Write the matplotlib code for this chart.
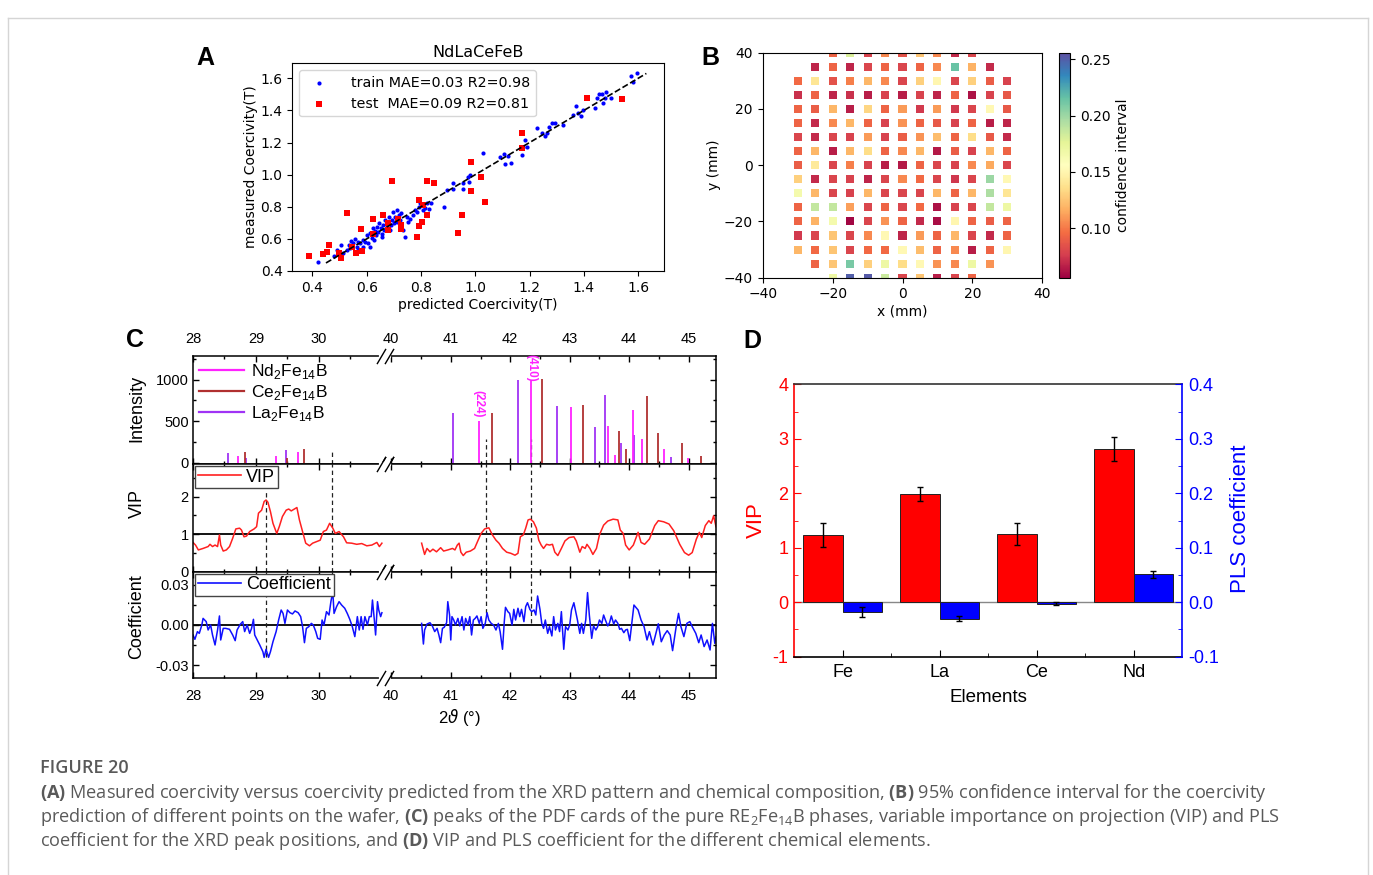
import numpy as np
import matplotlib
matplotlib.use("Agg")
import matplotlib.pyplot as plt
import matplotlib.transforms as mtransforms
from matplotlib.lines import Line2D

plt.rcParams['mathtext.rm'] = 'Open Sans'
plt.rcParams['mathtext.bf'] = 'Open Sans:bold'
plt.rcParams['mathtext.it'] = 'Open Sans:italic'
ARIAL = 'Liberation Sans'
CAPFONT = 'Open Sans'

# ---------------- Panel A data ----------------
train_pred = [0.42, 0.434, 0.48, 0.49, 0.504, 0.514, 0.526, 0.533, 0.539, 0.541, 0.548, 0.557, 0.563, 0.569, 0.569,
              0.575, 0.585, 0.588, 0.594, 0.60, 0.606, 0.612, 0.612, 0.618, 0.622, 0.627, 0.631, 0.634, 0.639, 0.643,
              0.647, 0.652, 0.655, 0.655, 0.659, 0.664, 0.667, 0.674, 0.68, 0.683, 0.686, 0.688, 0.692, 0.698, 0.701,
              0.706, 0.71, 0.713, 0.72, 0.722, 0.725, 0.735, 0.741, 0.747, 0.753, 0.76, 0.769, 0.778, 0.787, 0.794,
              0.796, 0.802, 0.809, 0.815, 0.821, 0.831, 0.837, 0.885, 0.895, 0.917, 0.919, 0.956, 0.956, 0.974, 0.978,
              0.98, 1.03, 1.091, 1.106, 1.109, 1.121, 1.13, 1.172, 1.174, 1.183, 1.189, 1.226, 1.244, 1.256, 1.263,
              1.272, 1.281, 1.294, 1.324, 1.361, 1.37, 1.379, 1.388, 1.395, 1.44, 1.449, 1.456, 1.468, 1.471, 1.477,
              1.483, 1.498, 1.575, 1.582, 1.594]
train_meas = [0.454, 0.506, 0.493, 0.531, 0.562, 0.51, 0.531, 0.562, 0.541, 0.589, 0.572, 0.597, 0.552, 0.583, 0.531,
              0.572, 0.593, 0.552, 0.581, 0.624, 0.572, 0.639, 0.552, 0.603, 0.666, 0.593, 0.651, 0.624, 0.676, 0.645,
              0.701, 0.666, 0.63, 0.614, 0.687, 0.655, 0.718, 0.676, 0.707, 0.738, 0.655, 0.687, 0.718, 0.77, 0.697,
              0.738, 0.78, 0.707, 0.749, 0.718, 0.763, 0.655, 0.61, 0.738, 0.707, 0.722, 0.749, 0.78, 0.77, 0.801,
              0.821, 0.811, 0.78, 0.79, 0.821, 0.784, 0.821, 0.801, 0.904, 0.946, 0.909, 0.909, 0.946, 0.983, 0.956,
              0.998, 1.133, 1.112, 1.129, 1.066, 1.116, 1.075, 1.122, 1.174, 1.216, 1.174, 1.289, 1.257, 1.241, 1.257,
              1.299, 1.32, 1.324, 1.309, 1.372, 1.428, 1.386, 1.365, 1.403, 1.413, 1.475, 1.502, 1.502, 1.448, 1.475,
              1.517, 1.475, 1.614, 1.579, 1.635]
test_pred = [0.389, 0.44, 0.453, 0.463, 0.498, 0.504, 0.526, 0.545, 0.56, 0.582, 0.578, 0.622, 0.625, 0.659, 0.677,
             0.68, 0.692, 0.716, 0.726, 0.726, 0.784, 0.791, 0.794, 0.805, 0.809, 0.823, 0.823, 0.848, 0.935, 0.951,
             0.983, 0.983, 1.021, 1.036, 1.173, 1.173, 1.412, 1.542]
test_meas = [0.493, 0.506, 0.52, 0.562, 0.514, 0.483, 0.759, 0.552, 0.514, 0.527, 0.66, 0.63, 0.722, 0.747, 0.697,
             0.655, 0.963, 0.722, 0.687, 0.66, 0.61, 0.682, 0.842, 0.707, 0.811, 0.749, 0.963, 0.95, 0.635, 0.749,
             1.079, 0.896, 0.988, 0.832, 1.164, 1.262, 1.477, 1.471]
diag_line = [0.45, 1.63]
a_ticks = [0.4, 0.6, 0.8, 1.0, 1.2, 1.4, 1.6]

# ---------------- Panel B data (confidence interval per wafer row, y in mm) ----------------
row_y = [40, 35, 30, 25, 20, 15, 10, 5, 0, -5, -10, -15, -20, -25, -30, -35, -40]
ci_p40 = [0.092, 0.18, 0.078, 0.105, 0.085, 0.125, 0.105, 0.07, 0.08]
ci_p35 = [0.068, 0.092, 0.068, 0.08, 0.092, 0.08, 0.092, 0.105, 0.215, 0.118, 0.07]
ci_p30 = [0.095, 0.14, 0.085, 0.102, 0.12, 0.105, 0.08, 0.13, 0.15, 0.08, 0.13, 0.09, 0.078]
ci_p25 = [0.072, 0.092, 0.068, 0.072, 0.066, 0.078, 0.066, 0.078, 0.068, 0.092, 0.062, 0.078, 0.088]
ci_p20 = [0.092, 0.09, 0.12, 0.066, 0.132, 0.092, 0.11, 0.075, 0.11, 0.075, 0.08, 0.152, 0.088]
ci_p15 = [0.092, 0.07, 0.105, 0.12, 0.092, 0.078, 0.108, 0.092, 0.088, 0.078, 0.092, 0.066, 0.068]
ci_p10 = [0.08, 0.07, 0.08, 0.078, 0.11, 0.078, 0.09, 0.108, 0.122, 0.092, 0.135, 0.088, 0.07]
ci_p05 = [0.092, 0.12, 0.066, 0.12, 0.135, 0.092, 0.105, 0.12, 0.064, 0.09, 0.078, 0.12, 0.092]
ci_000 = [0.09, 0.142, 0.08, 0.102, 0.078, 0.066, 0.064, 0.092, 0.08, 0.078, 0.105, 0.115, 0.08]
ci_m05 = [0.13, 0.07, 0.08, 0.078, 0.068, 0.08, 0.105, 0.095, 0.08, 0.074, 0.08, 0.2, 0.152]
ci_m10 = [0.165, 0.12, 0.08, 0.078, 0.12, 0.08, 0.08, 0.08, 0.12, 0.092, 0.12, 0.195, 0.14]
ci_m15 = [0.092, 0.188, 0.188, 0.112, 0.08, 0.092, 0.08, 0.095, 0.062, 0.078, 0.08, 0.188, 0.17]
ci_m20 = [0.092, 0.118, 0.165, 0.058, 0.08, 0.108, 0.092, 0.07, 0.06, 0.15, 0.092, 0.09, 0.092]
ci_m25 = [0.075, 0.08, 0.125, 0.08, 0.105, 0.152, 0.068, 0.11, 0.092, 0.12, 0.08, 0.07, 0.092]
ci_m30 = [0.12, 0.095, 0.125, 0.08, 0.095, 0.095, 0.152, 0.122, 0.092, 0.105, 0.066, 0.092, 0.15]
ci_m35 = [0.092, 0.125, 0.21, 0.13, 0.17, 0.135, 0.152, 0.108, 0.105, 0.17, 0.108]
ci_m40 = [0.17, 0.25, 0.252, 0.185, 0.08, 0.125, 0.066, 0.08, 0.092]
ci_rows = [ci_p40, ci_p35, ci_p30, ci_p25, ci_p20, ci_p15, ci_p10, ci_p05, ci_000,
           ci_m05, ci_m10, ci_m15, ci_m20, ci_m25, ci_m30, ci_m35, ci_m40]
grid_step = 5
cb_ticks = [0.10, 0.15, 0.20, 0.25]

# ---------------- Panel C data ----------------
nd_x = [28.72, 29.32, 29.66, 41.47, 42.35, 43.02, 43.64, 43.76, 44.06, 44.22, 44.58, 44.99]
nd_h = [85, 85, 133, 500, 1000, 668, 447, 90, 636, 286, 165, 55]
ce_x = [28.82, 29.50, 29.76, 41.70, 42.54, 43.22, 43.83, 43.95, 44.30, 44.49, 44.89, 45.20]
ce_h = [133, 65, 165, 595, 1010, 700, 383, 165, 807, 358, 238, 85]
la_x = [28.55, 28.84, 29.47, 41.035, 42.13, 42.79, 43.42, 43.60, 43.86, 44.08, 44.71]
la_h = [124, 60, 153, 595, 1000, 688, 427, 817, 238, 330, 72]

vip_l_x = [28.0, 28.04, 28.085, 28.16, 28.24, 28.27, 28.31, 28.35, 28.39, 28.42, 28.44, 28.48, 28.53, 28.58, 28.63,
           28.68, 28.74, 28.77, 28.81, 28.85, 28.90, 28.97, 29.01, 29.04, 29.09, 29.13, 29.16, 29.19, 29.23, 29.27,
           29.33, 29.37, 29.42, 29.48, 29.52, 29.56, 29.60, 29.65, 29.69, 29.74, 29.79, 29.85, 29.90, 29.96, 30.02,
           30.07, 30.12, 30.17, 30.22, 30.26, 30.32, 30.39, 30.44, 30.52, 30.60, 30.68, 30.76, 30.84, 30.92, 30.96, 31.0]
vip_l = [0.78, 0.71, 0.58, 0.62, 0.67, 0.73, 0.67, 0.71, 0.67, 0.98, 0.71, 0.55, 0.58, 0.67, 0.89,
         1.14, 1.16, 1.11, 0.93, 0.95, 1.07, 1.14, 1.2, 1.56, 1.64, 1.87, 1.91, 1.85, 1.6, 1.29,
         1.02, 1.2, 1.47, 1.64, 1.67, 1.62, 1.66, 1.71, 1.38, 1.07, 0.76, 0.69, 0.76, 0.8, 0.84,
         1.07, 1.11, 1.29, 1.16, 1.02, 1.07, 0.93, 0.77, 0.76, 0.73, 0.75, 0.69, 0.71, 0.78, 0.67, 0.76]
vip_r_x = [40.51, 40.56, 40.60, 40.65, 40.70, 40.76, 40.83, 40.88, 40.95, 41.03, 41.07, 41.11, 41.14, 41.17, 41.21,
           41.26, 41.33, 41.40, 41.46, 41.51, 41.57, 41.64, 41.70, 41.76, 41.81, 41.87, 41.94, 42.01, 42.08, 42.13,
           42.17, 42.22, 42.26, 42.30, 42.34, 42.39, 42.44, 42.48, 42.52, 42.56, 42.61, 42.66, 42.71, 42.75, 42.80,
           42.86, 42.92, 42.99, 43.07, 43.11, 43.17, 43.21, 43.26, 43.29, 43.34, 43.39, 43.45, 43.50, 43.57, 43.64,
           43.73, 43.81, 43.85, 43.90, 43.94, 44.0, 44.07, 44.15, 44.20, 44.26, 44.34, 44.43, 44.49, 44.58, 44.67,
           44.75, 44.85, 44.93, 45.00, 45.06, 45.13, 45.18, 45.22, 45.28, 45.34, 45.38, 45.42, 45.46]
vip_r = [0.76, 0.46, 0.62, 0.53, 0.60, 0.53, 0.64, 0.55, 0.58, 0.62, 0.58, 0.71, 0.76, 0.52, 0.43,
         0.52, 0.55, 0.62, 0.84, 1.02, 1.14, 1.17, 0.98, 0.84, 0.76, 0.62, 0.52, 0.49, 0.44, 0.49,
         0.93, 0.98, 1.16, 1.38, 1.40, 1.33, 1.16, 0.84, 0.71, 0.62, 0.73, 0.71, 0.73, 0.52, 0.43,
         0.62, 0.82, 0.91, 0.93, 0.82, 0.52, 0.67, 0.62, 0.73, 0.62, 0.46, 0.62, 0.98, 1.24, 1.35,
         1.40, 1.38, 1.11, 1.02, 0.71, 0.58, 0.71, 1.05, 0.78, 0.73, 0.87, 1.23, 1.36, 1.33, 1.27,
         1.09, 0.73, 0.51, 0.44, 0.51, 0.87, 1.05, 0.91, 1.23, 1.36, 1.29, 1.49, 1.2]

coef_l_x = [28.0, 28.03, 28.07, 28.10, 28.14, 28.16, 28.21, 28.24, 28.28, 28.31, 28.35, 28.39, 28.42, 28.44, 28.48,
            28.52, 28.58, 28.63, 28.67, 28.70, 28.75, 28.79, 28.82, 28.86, 28.90, 28.93, 28.96, 28.98, 29.02, 29.06,
            29.11, 29.13, 29.16, 29.20, 29.23, 29.27, 29.32, 29.36, 29.40, 29.43, 29.46, 29.50, 29.54, 29.58, 29.62,
            29.67, 29.71, 29.74, 29.77, 29.80, 29.84, 29.88, 29.91, 29.95, 29.98, 30.02, 30.05, 30.08, 30.12, 30.16,
            30.19, 30.22, 30.24, 30.28, 30.32, 30.36, 30.41, 30.45, 30.49, 30.53, 30.57, 30.61, 30.64, 30.67, 30.70,
            30.73, 30.77, 30.80, 30.83, 30.85, 30.88, 30.90, 30.93, 30.95, 30.98, 31.0]
coef_l = [-0.0074, -0.0106, -0.0049, -0.0062, 0.0, 0.0049, 0.0025, -0.0037, 0.0, -0.0074, -0.0148, -0.0037, 0.0067,
          -0.0111, -0.0025, -0.0025, -0.0032, -0.0074, -0.0116, -0.0037, 0.0005, 0.0025, -0.0049, 0.0, -0.0062,
          -0.0025, 0.0042, -0.0074, -0.0111, -0.0148, -0.0198, -0.024, -0.018, -0.024, -0.0198, -0.0124, -0.0049,
          0.0037, 0.0111, 0.0086, 0.0012, 0.0111, 0.0091, 0.0082, 0.0104, 0.0091, 0.0062, -0.0012, -0.0131, -0.0025,
          -0.0012, 0.0012, 0.0, -0.0049, -0.0099, -0.0106, 0.0037, 0.0, 0.0099, 0.0074, 0.0173, 0.0247, 0.0086,
          0.0136, 0.0173, 0.0148, 0.0124, 0.0086, 0.0042, -0.0012, -0.0086, 0.0062, -0.0037, 0.0062, -0.0032, 0.0062,
          0.0, 0.0062, 0.0062, 0.0185, 0.0037, -0.0074, 0.0173, 0.0111, 0.0062, 0.0091]
coef_r_x = [40.51, 40.54, 40.56, 40.60, 40.65, 40.69, 40.73, 40.77, 40.80, 40.83, 40.86, 40.89, 40.93, 40.95, 40.98,
            41.0, 41.02, 41.05, 41.08, 41.12, 41.15, 41.19, 41.22, 41.25, 41.29, 41.32, 41.35, 41.38, 41.41, 41.44,
            41.48, 41.51, 41.54, 41.58, 41.61, 41.64, 41.68, 41.72, 41.76, 41.80, 41.83, 41.87, 41.90, 41.92, 41.96,
            41.99, 42.03, 42.06, 42.09, 42.13, 42.16, 42.19, 42.23, 42.26, 42.29, 42.33, 42.36, 42.40, 42.43, 42.46,
            42.50, 42.53, 42.56, 42.59, 42.63, 42.66, 42.70, 42.73, 42.76, 42.80, 42.83, 42.86, 42.90, 42.93, 42.97,
            43.0, 43.03, 43.07, 43.10, 43.13, 43.17, 43.20, 43.23, 43.27, 43.30, 43.33, 43.37, 43.40, 43.44, 43.47,
            43.50, 43.54, 43.57, 43.60, 43.64, 43.67, 43.70, 43.74, 43.77, 43.81, 43.84, 43.87, 43.91, 43.94, 43.97,
            44.01, 44.04, 44.08, 44.15, 44.20, 44.25, 44.30, 44.34, 44.40, 44.45, 44.49, 44.54, 44.59, 44.64, 44.69,
            44.73, 44.79, 44.83, 44.87, 44.92, 44.97, 45.02, 45.06, 45.12, 45.17, 45.21, 45.26, 45.31, 45.36, 45.40,
            45.44, 45.46]
coef_r = [0.0012, -0.0141, -0.0037, 0.0007, 0.0017, -0.0007, -0.0049, -0.0025, -0.0074, -0.0131, -0.0025, -0.0017,
          0.0017, 0.0173, 0.0074, -0.0111, 0.0062, 0.0037, 0.0, 0.0049, -0.0007, 0.0062, -0.0037, 0.0049, 0.0,
          0.0062, -0.0074, 0.0037, 0.0049, 0.0067, 0.0012, 0.0062, -0.0025, 0.0012, 0.0091, 0.0037, 0.0012, 0.0,
          -0.0037, 0.0012, -0.0049, -0.018, 0.0025, 0.0131, 0.0099, 0.0086, 0.0, 0.0116, 0.0037, 0.0124, 0.0062,
          0.0116, 0.0025, 0.0136, 0.0165, 0.0116, 0.0099, 0.0111, 0.0074, 0.0215, 0.0116, 0.0012, -0.0025, 0.0037,
          -0.0062, -0.0012, -0.0081, 0.0062, -0.0037, 0.0012, -0.0049, 0.0099, -0.018, -0.0012, -0.0037, 0.0,
          0.0111, 0.0165, 0.0099, 0.0037, -0.0062, 0.0012, -0.0062, 0.0037, 0.024, 0.0074, -0.0099, -0.0007,
          -0.0037, -0.0012, 0.0037, 0.0012, 0.0074, 0.0037, -0.0007, 0.0017, 0.0067, 0.0007, 0.0037, 0.0012,
          -0.0032, -0.0025, -0.0057, -0.0037, -0.0032, -0.0116, 0.0, 0.0148, 0.0111, 0.0037, -0.0012, -0.0111,
          -0.0049, -0.0148, -0.0062, 0.0009, -0.0124, -0.0074, -0.0042, -0.0074, -0.019, -0.0012, 0.0086, -0.0012,
          -0.0086, 0.0012, 0.0025, -0.0012, -0.0062, -0.0131, -0.0074, -0.016, -0.0111, -0.0185, 0.0012, -0.0136,
          -0.0086]

c_ticks = [28, 29, 30, 40, 41, 42, 43, 44, 45]
c_minor = [28.5, 29.5, 30.5, 40.5, 41.5, 42.5, 43.5, 44.5]
# dashed guide lines: position, top in intensity panel, bottom in coefficient panel
guide_x = [29.16, 30.20, 41.60, 42.35]
guide_int_top = [None, 135, 290, 290]
guide_vip_top = [2.18, None, None, None]
guide_coef_bot = [-0.024, 0.026, 0.0086, 0.0012]

# ---------------- Panel D data ----------------
elements = ['Fe', 'La', 'Ce', 'Nd']
vip_vals = [1.23, 1.98, 1.25, 2.82]
vip_err = [0.22, 0.13, 0.20, 0.22]
pls_vals = [-0.0175, -0.030, -0.0025, 0.051]
pls_err = [0.009, 0.0045, 0.002, 0.0065]
d_left_ticks = [-1, 0, 1, 2, 3, 4]
d_right_ticks = [-0.1, 0.0, 0.1, 0.2, 0.3, 0.4]

# ============================================================
W, H = 1373, 875
fig = plt.figure(figsize=(W / 100, H / 100), dpi=100)


def add_ax(l, t, r, b):
    return fig.add_axes([l / W, 1 - b / H, (r - l) / W, (b - t) / H])


# outer frame
for xs_, ys_ in [([8, 8], [18, 875]), ([1368, 1368], [18, 875]), ([8, 1368], [18, 18])]:
    fig.add_artist(Line2D(np.array(xs_) / W, 1 - np.array(ys_) / H, color='#d5d5d5', lw=1))

# ---------------- Panel A ----------------
axA = add_ax(292.3, 62.7, 664, 271)
axA.scatter(train_pred, train_meas, s=9, color='blue', marker='o', linewidths=0,
            label='train MAE=0.03 R2=0.98', zorder=2)
axA.scatter(test_pred, test_meas, s=18, color='red', marker='s', linewidths=0,
            label='test  MAE=0.09 R2=0.81', zorder=3)
axA.plot(diag_line, diag_line, color='black', ls='--', lw=1.2, zorder=4)
axA.set_xlim(0.326, 1.695)
axA.set_ylim(0.4, 1.697)
axA.set_xticks(a_ticks)
axA.set_yticks(a_ticks)
axA.tick_params(labelsize=10)
axA.set_xlabel('predicted Coercivity(T)', fontsize=10, labelpad=2)
axA.set_ylabel('measured Coercivity(T)', fontsize=10, labelpad=2)
axA.set_title('NdLaCeFeB', fontsize=11.5, pad=4)
axA.legend(loc='upper left', fontsize=10.3, scatterpoints=1, handletextpad=1.2)

# ---------------- Panel B ----------------
axB = add_ax(762.7, 52.7, 1042.3, 277.7)
bx, by, bc = [], [], []
for yv, row in zip(row_y, ci_rows):
    n = len(row)
    xs_row = (np.arange(n) - (n - 1) / 2) * grid_step
    bx.extend(xs_row)
    by.extend([yv] * n)
    bc.extend(row)
sc = axB.scatter(bx, by, c=bc, cmap='Spectral', vmin=0.056, vmax=0.256, marker='s', s=34, linewidths=0)
axB.set_xlim(-40, 40)
axB.set_ylim(-40, 40)
axB.set_xticks([-40, -20, 0, 20, 40])
axB.set_yticks([-40, -20, 0, 20, 40])
axB.tick_params(labelsize=10)
axB.set_xlabel('x (mm)', fontsize=10, labelpad=2)
axB.set_ylabel('y (mm)', fontsize=10, labelpad=2)
caxB = add_ax(1059, 52.7, 1070, 277.7)
cb = fig.colorbar(sc, cax=caxB)
cb.set_ticks(cb_ticks)
cb.ax.tick_params(labelsize=10)
cb.set_label('confidence interval', fontsize=10)

# ---------------- Panel C ----------------
XB0, XB1, S0, S1 = 31.05, 39.9, 63.0, 59.5
P0 = (XB0 - 28) * S0
P1 = P0 + 0.3


def brk_fwd(x):
    x = np.asarray(x, dtype=float)
    return np.where(x <= XB0, (x - 28) * S0,
                    np.where(x >= XB1, P1 + (x - XB1) * S1, P0 + (x - XB0) * (P1 - P0) / (XB1 - XB0)))


def brk_inv(p):
    p = np.asarray(p, dtype=float)
    return np.where(p <= P0, 28 + p / S0,
                    np.where(p >= P1, XB1 + (p - P1) / S1, XB0 + (p - P0) * (XB1 - XB0) / (P1 - P0)))


C_L, C_R = 193, 716
axI = add_ax(C_L, 356, C_R, 464)
axV = add_ax(C_L, 464, C_R, 571.7)
axC = add_ax(C_L, 571.7, C_R, 678.3)
for ax in (axI, axV, axC):
    ax.set_xscale('function', functions=(brk_fwd, brk_inv))
    ax.set_xlim(28, 45.46)
    ax.set_xticks(c_ticks, labels=[str(t) for t in c_ticks])
    ax.set_xticks(c_minor, minor=True)
    ax.tick_params(which='both', direction='in', top=True, right=True, labelsize=10.5,
                   labelfontfamily=ARIAL, pad=3)
    ax.tick_params(which='major', length=4.5, width=1)
    ax.tick_params(which='minor', length=2.5, width=1)
    for sp in ax.spines.values():
        sp.set_linewidth(1.1)
axI.tick_params(axis='x', labeltop=True, labelbottom=False, pad=7)
axV.tick_params(labelbottom=False)
axC.tick_params(axis='x', labelbottom=True, pad=8)

# intensity sticks
la_col, ce_col, nd_col = '#A033F5', '#B03030', '#FF22FF'
axI.vlines(la_x, 0, la_h, color=la_col, lw=1.3)
axI.vlines(ce_x, 0, ce_h, color=ce_col, lw=1.3)
axI.vlines(nd_x, 0, nd_h, color=nd_col, lw=1.3)
axI.set_ylim(-12, 1282)
axI.set_yticks([0, 500, 1000])
axI.set_yticks([250, 750, 1250], minor=True)
hI = [Line2D([], [], color=nd_col, lw=1.6), Line2D([], [], color=ce_col, lw=1.6), Line2D([], [], color=la_col, lw=1.6)]
lI = ['Nd$_\\mathregular{2}$Fe$_\\mathregular{14}$B', 'Ce$_\\mathregular{2}$Fe$_\\mathregular{14}$B',
      'La$_\\mathregular{2}$Fe$_\\mathregular{14}$B']
axI.legend(hI, lI, loc='upper left', frameon=False, prop={'family': ARIAL, 'size': 12.5},
           handlelength=2.6, handletextpad=0.4, labelspacing=0.12, borderaxespad=0.15, borderpad=0.2)
axI.text(41.47, 715, '(224)', rotation=-90, color=nd_col, fontsize=8.5, fontweight='bold',
         family=ARIAL, ha='center', va='center')
axI.text(42.35, 1140, '(410)', rotation=-90, color=nd_col, fontsize=8.5, fontweight='bold',
         family=ARIAL, ha='center', va='center', clip_on=False)

# VIP
axV.plot(vip_l_x, vip_l, color='#FF2020', lw=1.1)
axV.plot(vip_r_x, vip_r, color='#FF2020', lw=1.1)
axV.axhline(1, color='black', lw=1.3, zorder=1)
axV.set_ylim(0, 2.87)
axV.set_yticks([0, 1, 2])
axV.set_yticks([0.5, 1.5, 2.5], minor=True)
axV.legend([Line2D([], [], color='#FF2020', lw=1.2)], ['VIP'], loc='upper left', fancybox=False,
           framealpha=1, edgecolor='#444444', prop={'family': ARIAL, 'size': 13}, handlelength=2.4,
           handletextpad=0.3, borderaxespad=0.1, borderpad=0.15)

# Coefficient
axC.plot(coef_l_x, coef_l, color='#1010FF', lw=1.1)
axC.plot(coef_r_x, coef_r, color='#1010FF', lw=1.1)
axC.axhline(0, color='black', lw=1.3, zorder=1)
axC.set_ylim(-0.0395, 0.0395)
axC.set_yticks([-0.03, 0.0, 0.03], labels=['-0.03', '0.00', '0.03'])
axC.set_yticks([-0.015, 0.015], minor=True)
axC.legend([Line2D([], [], color='#1010FF', lw=1.2)], ['Coefficient'], loc='upper left', fancybox=False,
           framealpha=1, edgecolor='#444444', prop={'family': ARIAL, 'size': 13}, handlelength=2.4,
           handletextpad=0.3, borderaxespad=0.1, borderpad=0.15)

# dashed guide lines
dash = dict(color='#222222', lw=0.9, ls=(0, (3.5, 2.5)), zorder=1.5)
for gx, it, vt, cbot in zip(guide_x, guide_int_top, guide_vip_top, guide_coef_bot):
    if it is not None:
        axI.plot([gx, gx], [-12, it], **dash)
    axV.plot([gx, gx], [0, vt if vt is not None else 2.87], **dash)
    axC.plot([gx, gx], [cbot, 0.0395], **dash)

# axis break markers
for ax in (axI, axV, axC):
    tr = mtransforms.blended_transform_factory(ax.transData, ax.transAxes)
    for yy in (0, 1):
        ax.plot([30.985, 39.96], [yy, yy], transform=tr, color='white', lw=3, clip_on=False, zorder=5)
        ax.plot([30.985, 39.96], [yy, yy], transform=tr, ls='none', marker=[(-1, -1.7), (1, 1.7)],
                ms=11, mec='black', mfc='none', mew=1.0, clip_on=False, zorder=6)

fig.text(137 / W, 1 - 408 / H, 'Intensity', rotation=90, ha='center', va='center', fontsize=13, family=ARIAL)
fig.text(137 / W, 1 - 503 / H, 'VIP', rotation=90, ha='center', va='center', fontsize=13, family=ARIAL)
fig.text(137 / W, 1 - 617 / H, 'Coefficient', rotation=90, ha='center', va='center', fontsize=13, family=ARIAL)
fig.text(459 / W, 1 - 718 / H, r'2$\vartheta$ (°)', ha='center', va='center', fontsize=12, family=ARIAL)

# ---------------- Panel D ----------------
axD = add_ax(794, 384.3, 1182.3, 656.7)
axD2 = axD.twinx()
pos = np.arange(1, len(elements) + 1)
bw = 0.405
axD.bar(pos - bw / 2, vip_vals, width=bw, yerr=vip_err, color='#FF0000', edgecolor='#222222', lw=0.7,
        capsize=2.5, error_kw=dict(lw=1.0, capthick=1.0, ecolor='black'), zorder=3)
axD2.bar(pos + bw / 2, pls_vals, width=bw, yerr=pls_err, color='#0000FF', edgecolor='#222222', lw=0.7,
         capsize=2.5, error_kw=dict(lw=1.0, capthick=1.0, ecolor='black'), zorder=3)
axD.axhline(0, color='#888888', lw=1.0, zorder=1)
axD.set_xlim(0.5, 4.5)
axD.set_ylim(-1, 4)
axD2.set_ylim(-0.1, 0.4)
axD.set_xticks(pos, labels=elements)
axD.set_xticks([1.5, 2.5, 3.5], minor=True)
axD.set_yticks(d_left_ticks, labels=[str(v) for v in d_left_ticks])
axD.set_yticks([-0.5, 0.5, 1.5, 2.5, 3.5], minor=True)
axD2.set_yticks(d_right_ticks, labels=['%.1f' % v for v in d_right_ticks])
axD2.set_yticks([-0.05, 0.05, 0.15, 0.25, 0.35], minor=True)
axD.tick_params(axis='x', which='both', direction='in', labelsize=13, labelfontfamily=ARIAL, pad=5)
axD.tick_params(axis='x', which='major', length=5)
axD.tick_params(axis='x', which='minor', length=3)
axD.tick_params(axis='y', which='both', direction='in', colors='red', labelsize=13,
                labelfontfamily=ARIAL, pad=4)
axD.tick_params(axis='y', which='major', length=5)
axD.tick_params(axis='y', which='minor', length=3)
axD2.tick_params(axis='y', which='both', direction='in', colors='blue', labelsize=13,
                 labelfontfamily=ARIAL, pad=4)
axD2.tick_params(axis='y', which='major', length=5)
axD2.tick_params(axis='y', which='minor', length=3)
axD.spines['left'].set_color('red')
axD.spines['right'].set_visible(False)
axD.spines['top'].set_color('#333333')
axD2.spines['left'].set_visible(False)
axD2.spines['right'].set_color('blue')
axD2.spines['top'].set_visible(False)
axD2.spines['bottom'].set_visible(False)
for sp in list(axD.spines.values()) + list(axD2.spines.values()):
    sp.set_linewidth(1.2)
fig.text(756 / W, 1 - 520 / H, 'VIP', rotation=90, ha='center', va='center', fontsize=16,
         color='red', family=ARIAL)
fig.text(1240 / W, 1 - 519 / H, 'PLS coefficient', rotation=90, ha='center', va='center', fontsize=16,
         color='blue', family=ARIAL)
fig.text(988 / W, 1 - 698 / H, 'Elements', ha='center', va='center', fontsize=13.5, family=ARIAL)

# ---------------- Panel letters ----------------
for lx, ly, s in [(205, 58, 'A'), (710, 58, 'B'), (135, 340, 'C'), (752, 341, 'D')]:
    fig.text(lx / W, 1 - ly / H, s, fontsize=18, fontweight='bold', family=ARIAL, ha='center', va='center')

# ---------------- Caption ----------------
cap_col = '#595959'
fig.text(40 / W, 1 - 768 / H, 'FIGURE 20', fontsize=13, color=cap_col, family=CAPFONT, va='center',
         fontweight='semibold')
cap_lines = [
    r'$\mathbf{(A)}$ Measured coercivity versus coercivity predicted from the XRD pattern and chemical composition, '
    r'$\mathbf{(B)}$ 95% confidence interval for the coercivity',
    r'prediction of different points on the wafer, $\mathbf{(C)}$ peaks of the PDF cards of the pure '
    r'RE$_\mathregular{2}$Fe$_\mathregular{14}$B phases, variable importance on projection (VIP) and PLS',
    r'coefficient for the XRD peak positions, and $\mathbf{(D)}$ VIP and PLS coefficient for the different '
    r'chemical elements.',
]
for i, line in enumerate(cap_lines):
    fig.text(40 / W, 1 - (793 + 24 * i) / H, line, fontsize=13.1, color=cap_col, family=CAPFONT,
             va='center', math_fontfamily='custom')

fig.savefig('out.png', dpi=100)
